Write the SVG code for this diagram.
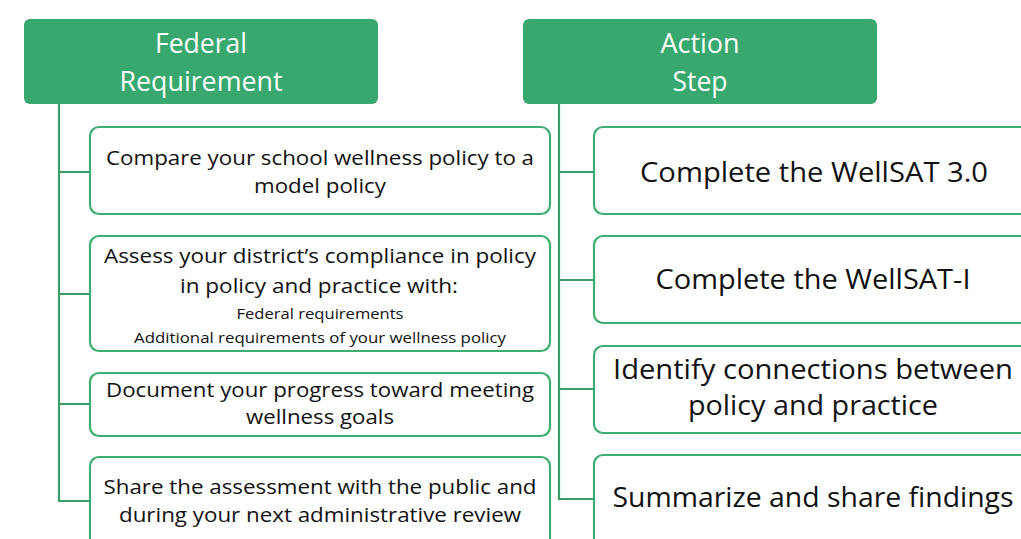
<svg xmlns="http://www.w3.org/2000/svg" width="1021" height="539" viewBox="0 0 1021 539">
<style>
.hdr{fill:#38A86F;}
.htxt{font-family:"Open Sans","Liberation Sans",sans-serif;font-size:27px;fill:#ffffff;text-anchor:middle;}
.box{fill:#ffffff;stroke:#3DAD71;stroke-width:2.2;}
.conn{fill:none;stroke:#3A9E68;stroke-width:2.2;}
.t{font-family:"Open Sans","Liberation Sans",sans-serif;font-size:20px;fill:#111111;text-anchor:middle;}
.ts{font-family:"Open Sans","Liberation Sans",sans-serif;font-size:15px;fill:#111111;text-anchor:middle;}
.tl{font-family:"Open Sans","Liberation Sans",sans-serif;font-size:28px;fill:#111111;text-anchor:middle;}
</style>
<rect width="1021" height="539" fill="#ffffff"/>
<g id="connectors">
<path class="conn" d="M59,104 V501 H90 M59,172 H90 M59,294 H90 M59,404 H90"/>
<path class="conn" d="M559,104 V499 H594 M559,172 H594 M559,280 H594 M559,389 H594"/>
</g>
<g id="hdr-federal">
<rect class="hdr" x="24" y="19" width="354" height="85" rx="6"/>
<text class="htxt" x="201" y="53" textLength="92" lengthAdjust="spacingAndGlyphs">Federal</text>
<text class="htxt" x="201" y="91" textLength="163" lengthAdjust="spacingAndGlyphs">Requirement</text>
</g>
<g id="hdr-action">
<rect class="hdr" x="523" y="19" width="354" height="85" rx="6"/>
<text class="htxt" x="700" y="53" textLength="79" lengthAdjust="spacingAndGlyphs">Action</text>
<text class="htxt" x="700" y="91" textLength="55" lengthAdjust="spacingAndGlyphs">Step</text>
</g>
<g id="req1">
<rect class="box" x="90" y="127" width="460" height="87" rx="9"/>
<text class="t" x="320" y="165" textLength="428" lengthAdjust="spacingAndGlyphs">Compare your school wellness policy to a</text>
<text class="t" x="320" y="193" textLength="132" lengthAdjust="spacingAndGlyphs">model policy</text>
</g>
<g id="req2">
<rect class="box" x="90" y="236" width="460" height="115" rx="9"/>
<text class="t" x="320" y="263" textLength="432" lengthAdjust="spacingAndGlyphs">Assess your district’s compliance in policy</text>
<text class="t" x="319" y="293" textLength="278" lengthAdjust="spacingAndGlyphs">in policy and practice with:</text>
<text class="ts" x="320" y="319" textLength="167" lengthAdjust="spacingAndGlyphs">Federal requirements</text>
<text class="ts" x="320" y="343" textLength="372" lengthAdjust="spacingAndGlyphs">Additional requirements of your wellness policy</text>
</g>
<g id="req3">
<rect class="box" x="90" y="373" width="460" height="63" rx="9"/>
<text class="t" x="320" y="397" textLength="428" lengthAdjust="spacingAndGlyphs">Document your progress toward meeting</text>
<text class="t" x="320" y="424" textLength="148" lengthAdjust="spacingAndGlyphs">wellness goals</text>
</g>
<g id="req4">
<rect class="box" x="90" y="457" width="460" height="100" rx="9"/>
<text class="t" x="320" y="494" textLength="433" lengthAdjust="spacingAndGlyphs">Share the assessment with the public and</text>
<text class="t" x="320" y="522" textLength="402" lengthAdjust="spacingAndGlyphs">during your next administrative review</text>
</g>
<g id="act1">
<rect class="box" x="594" y="127" width="445" height="87" rx="9"/>
<text class="tl" x="814" y="182" textLength="348" lengthAdjust="spacingAndGlyphs">Complete the WellSAT 3.0</text>
</g>
<g id="act2">
<rect class="box" x="594" y="236" width="445" height="87" rx="9"/>
<text class="tl" x="813" y="289" textLength="315" lengthAdjust="spacingAndGlyphs">Complete the WellSAT-I</text>
</g>
<g id="act3">
<rect class="box" x="594" y="346" width="445" height="87" rx="9"/>
<text class="tl" x="813" y="379" textLength="400" lengthAdjust="spacingAndGlyphs">Identify connections between</text>
<text class="tl" x="813" y="415" textLength="250" lengthAdjust="spacingAndGlyphs">policy and practice</text>
</g>
<g id="act4">
<rect class="box" x="594" y="455" width="445" height="100" rx="9"/>
<text class="tl" x="813" y="507" textLength="401" lengthAdjust="spacingAndGlyphs">Summarize and share findings</text>
</g>
</svg>
